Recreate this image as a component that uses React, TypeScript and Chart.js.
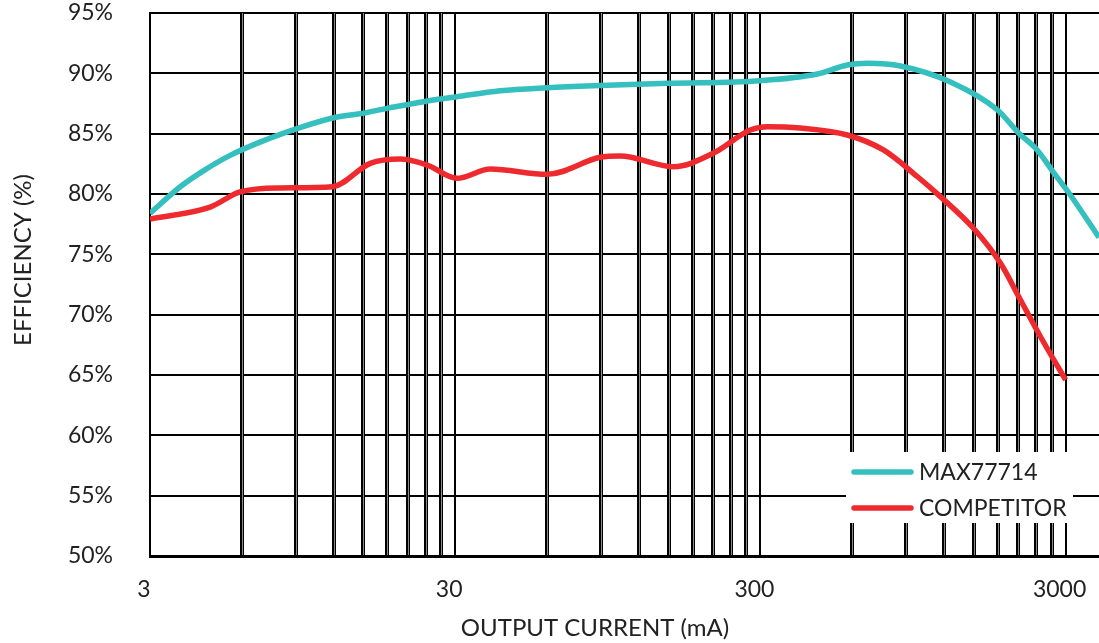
import React, { useEffect, useRef } from "react";
import { Chart, registerables } from "chart.js";

Chart.register(...registerables);

const maxCurrent = [3, 3.77, 4.54, 5.49, 6.88, 9.3, 11.9, 15.0, 17.9, 20.9, 24.3, 30.4, 42.1, 60.1, 89.6, 149, 300, 461, 578, 673, 863, 1259, 1795, 2104, 2420, 2719, 3093, 3860];
const maxEff = [78.4, 80.6, 82.0, 83.2, 84.3, 85.5, 86.3, 86.7, 87.1, 87.4, 87.7, 88.06, 88.56, 88.81, 88.99, 89.17, 89.39, 89.94, 90.69, 90.83, 90.61, 89.28, 86.96, 85.06, 83.65, 81.9, 80.0, 76.4];

const compCurrent = [3, 4.72, 5.92, 8.01, 11.9, 15.8, 19.8, 24.3, 30.4, 39.1, 60.1, 89.6, 104, 156, 210, 278, 316, 406, 578, 759, 982, 1167, 1497, 1836, 2135, 2483, 3000];
const compEff = [77.93, 78.92, 80.17, 80.5, 80.61, 82.54, 82.9, 82.4, 81.3, 82.07, 81.63, 83.04, 83.15, 82.26, 83.37, 85.3, 85.58, 85.47, 84.89, 83.65, 81.43, 79.78, 77.16, 74.26, 71.22, 68.17, 64.59];

const xGridValues = [3, 6, 9, 12, 15, 18, 21, 24, 27, 30, 60, 90, 120, 150, 180, 210, 240, 270, 300, 600, 900, 1200, 1500, 1800, 2100, 2400, 2700, 3000];
const xLabelValues = [3, 30, 300, 3000];
const yTicks = [50, 55, 60, 65, 70, 75, 80, 85, 90, 95];

const seriesNames = ["MAX77714", "COMPETITOR"];
const seriesColors = ["#35bfbf", "#ee2a2e"];

const FONT = "Lato, 'Open Sans', sans-serif";
const TEXT = "#222";

const isDecade = (v: number) => xLabelValues.includes(v);

const zeroPad = (scale: any) => {
  scale.paddingTop = 0;
  scale.paddingBottom = 0;
  scale.paddingLeft = 0;
  scale.paddingRight = 0;
};

export default function App() {
  const ref = useRef<HTMLCanvasElement | null>(null);
  useEffect(() => {
    if (!ref.current) return;
    const overlay = {
      id: "overlay",
      beforeDatasetsDraw(chart: any) {
        const { ctx, chartArea, scales } = chart;
        ctx.save();
        ctx.strokeStyle = "#8a8a8a";
        ctx.lineWidth = 1;
        for (const v of xGridValues) {
          if (isDecade(v)) continue;
          const px = Math.round(scales.x.getPixelForValue(v));
          ctx.beginPath();
          ctx.moveTo(px + 0.5, chartArea.top);
          ctx.lineTo(px + 0.5, chartArea.bottom - 1);
          ctx.stroke();
        }
        ctx.restore();
      },
      afterDraw(chart: any) {
        const { ctx } = chart;
        ctx.save();
        ctx.fillStyle = TEXT;
        ctx.font = `24px ${FONT}`;
        ctx.textAlign = "center";
        ctx.textBaseline = "middle";
        ctx.fillText("OUTPUT CURRENT (mA)", 595, 628);
        ctx.save();
        ctx.translate(23, 260);
        ctx.rotate(-Math.PI / 2);
        ctx.fillText("EFFICIENCY (%)", 0, 0);
        ctx.restore();
        ctx.fillStyle = "#fff";
        ctx.fillRect(846, 452, 227, 71);
        const rows = [472, 508];
        seriesNames.forEach((name, i) => {
          ctx.strokeStyle = seriesColors[i];
          ctx.lineWidth = 5.5;
          ctx.lineCap = "round";
          ctx.beginPath();
          ctx.moveTo(854, rows[i]);
          ctx.lineTo(911, rows[i]);
          ctx.stroke();
          ctx.fillStyle = TEXT;
          ctx.font = `23px ${FONT}`;
          ctx.textAlign = "left";
          ctx.textBaseline = "middle";
          ctx.fillText(name, 919, rows[i] + 1);
        });
        ctx.restore();
      },
    };

    const chart = new Chart(ref.current, {
      type: "line",
      data: {
        datasets: [
          {
            label: seriesNames[0],
            data: maxCurrent.map((x, i) => ({ x, y: maxEff[i] })),
            borderColor: seriesColors[0],
            borderWidth: 5.5,
            pointRadius: 0,
            cubicInterpolationMode: "monotone",
            fill: false,
          },
          {
            label: seriesNames[1],
            data: compCurrent.map((x, i) => ({ x, y: compEff[i] })),
            borderColor: seriesColors[1],
            borderWidth: 5.5,
            pointRadius: 0,
            cubicInterpolationMode: "monotone",
            fill: false,
          },
        ],
      },
      plugins: [overlay],
      options: {
        animation: false,
        responsive: false,
        events: [],
        layout: { padding: { top: 13, right: 0, left: 0, bottom: 0 } },
        plugins: { legend: { display: false }, tooltip: { enabled: false } },
        scales: {
          x: {
            type: "logarithmic",
            min: 3,
            max: 3860,
            afterBuildTicks: (scale: any) => {
              scale.ticks = xGridValues.map((v) => ({ value: v, major: false }));
            },
            afterFit: (scale: any) => {
              scale.height = 87;
              zeroPad(scale);
            },
            grid: {
              drawTicks: false,
              color: "#000",
              lineWidth: (c: any) => (c.tick && isDecade(c.tick.value) ? 2 : 4),
            },
            border: { display: true, color: "#000", width: 3 },
            ticks: {
              autoSkip: false,
              maxRotation: 0,
              padding: 20,
              labelOffset: -6,
              color: TEXT,
              font: { family: FONT, size: 23 },
              callback: (v: any) => (xLabelValues.includes(Number(v)) ? String(v) : ""),
            },
          },
          y: {
            min: 50,
            max: 95,
            afterBuildTicks: (scale: any) => {
              scale.ticks = yTicks.map((v) => ({ value: v }));
            },
            afterFit: (scale: any) => {
              scale.width = 150;
              zeroPad(scale);
            },
            grid: { drawTicks: false, color: "#000", lineWidth: 2 },
            border: { display: true, color: "#000", width: 2 },
            ticks: {
              padding: 37,
              color: TEXT,
              font: { family: FONT, size: 23 },
              callback: (v: any) => `${v}%`,
            },
          },
        },
      },
    } as any);
    return () => chart.destroy();
  }, []);

  return (
    <div style={{ position: "fixed", left: 0, top: 0, width: 1099, height: 643, background: "#fff" }}>
      <canvas ref={ref} width={1099} height={643} style={{ width: 1099, height: 643 }} />
    </div>
  );
}
